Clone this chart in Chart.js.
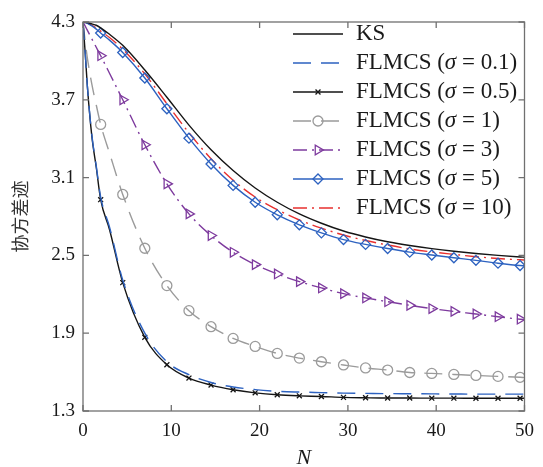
<!DOCTYPE html>
<html>
<head>
<meta charset="utf-8">
<script src="https://cdn.jsdelivr.net/npm/chart.js@4.4.1/dist/chart.umd.min.js"></script>
<style>
    html, body { margin: 0; padding: 0; background: #fff; }
</style>
</head>
<body>
<canvas id="chart1" width="543" height="467"></canvas>
<script>

// N values
var nValues = [0, 0.25, 0.5, 1, 1.5, 2, 3, 4.5, 7, 9.5, 12, 14.5, 17, 19.5, 22, 24.5, 27, 29.5, 32, 34.5, 37, 39.5, 42, 44.5, 47, 49.5, 50];
// N values that carry a marker symbol
var markerN = [2, 4.5, 7, 9.5, 12, 14.5, 17, 19.5, 22, 24.5, 27, 29.5, 32, 34.5, 37, 39.5, 42, 44.5, 47, 49.5];

var ks     = [4.30, 4.298, 4.295, 4.285, 4.275, 4.255, 4.205, 4.12, 3.93, 3.72, 3.505, 3.315, 3.155, 3.02, 2.91, 2.82, 2.748, 2.688, 2.642, 2.605, 2.576, 2.552, 2.532, 2.515, 2.500, 2.488, 2.486];
var sig01  = [4.30, 4.06, 3.80, 3.43, 3.19, 2.95, 2.72, 2.31, 1.90, 1.68, 1.58, 1.52, 1.485, 1.465, 1.452, 1.446, 1.442, 1.438, 1.436, 1.434, 1.433, 1.432, 1.431, 1.430, 1.430, 1.430, 1.430];
var sig05  = [4.30, 4.06, 3.80, 3.42, 3.18, 2.93, 2.70, 2.29, 1.868, 1.657, 1.554, 1.50, 1.464, 1.44, 1.425, 1.417, 1.412, 1.405, 1.402, 1.40, 1.40, 1.399, 1.399, 1.398, 1.398, 1.398, 1.398];
var sig1   = [4.30, 4.15, 4.02, 3.82, 3.66, 3.51, 3.29, 2.97, 2.555, 2.267, 2.074, 1.95, 1.86, 1.798, 1.744, 1.708, 1.68, 1.655, 1.632, 1.616, 1.597, 1.59, 1.582, 1.574, 1.567, 1.56, 1.558];
var sig3   = [4.30, 4.268, 4.235, 4.17, 4.105, 4.04, 3.905, 3.70, 3.353, 3.052, 2.82, 2.653, 2.524, 2.429, 2.357, 2.298, 2.249, 2.205, 2.172, 2.143, 2.115, 2.09, 2.068, 2.048, 2.027, 2.008, 2.005];
var sig5   = [4.30, 4.295, 4.29, 4.27, 4.245, 4.215, 4.16, 4.065, 3.868, 3.631, 3.404, 3.205, 3.04, 2.91, 2.813, 2.736, 2.674, 2.622, 2.585, 2.553, 2.525, 2.503, 2.482, 2.462, 2.44, 2.422, 2.42];
var sig10  = [4.30, 4.297, 4.292, 4.275, 4.255, 4.23, 4.18, 4.09, 3.90, 3.67, 3.445, 3.245, 3.08, 2.95, 2.853, 2.773, 2.71, 2.657, 2.615, 2.58, 2.55, 2.527, 2.508, 2.49, 2.476, 2.466, 2.464];

var seriesLabels = ['KS', 'FLMCS (σ = 0.1)', 'FLMCS (σ = 0.5)', 'FLMCS (σ = 1)', 'FLMCS (σ = 3)', 'FLMCS (σ = 5)', 'FLMCS (σ = 10)'];
var xTicks = [0, 10, 20, 30, 40, 50];
var yTicks = [1.3, 1.9, 2.5, 3.1, 3.7, 4.3];

var serif = '"Liberation Serif", "Times New Roman", serif';

function points(values) {
    var out = [];
    for (var i = 0; i < nValues.length; i += 1) {
        out.push({ x: nValues[i], y: values[i] });
    }
    return out;
}

// only the marker positions get a symbol, the extra points just shape the line
function markerRadius(r) {
    return function (c) {
        return markerN.indexOf(nValues[c.dataIndex]) >= 0 ? r : 0;
    };
}

function series(label, values, color, dash, marker, r, rot) {
    return {
        label: label,
        data: points(values),
        borderColor: color,
        backgroundColor: color,
        borderWidth: 1.4,
        borderDash: dash,
        cubicInterpolationMode: 'monotone',
        pointStyle: marker || false,
        pointRadius: marker ? markerRadius(r) : 0,
        pointRotation: rot || 0,
        pointBorderColor: color,
        pointBackgroundColor: 'rgba(0,0,0,0)',
        pointBorderWidth: 1.3,
        pointHoverRadius: 0,
        fill: false
    };
}

var datasets = [
    series(seriesLabels[0], ks, '#151515', [], null),
    series(seriesLabels[1], sig01, '#2d62c0', [18, 10], null),
    series(seriesLabels[2], sig05, '#151515', [], 'crossRot', 3.5),
    series(seriesLabels[3], sig1, '#9b9b9b', [18, 10], 'circle', 5),
    series(seriesLabels[4], sig3, '#7e3b9e', [14, 5, 2, 5], 'triangle', 5.5, 90),
    series(seriesLabels[5], sig5, '#2d62c0', [], 'rectRot', 5),
    series(seriesLabels[6], sig10, '#e8312f', [14, 5, 2, 5], null)
];

function drawMarker(ctx, ds, x, y) {
    if (!ds.pointStyle) return;
    ctx.save();
    ctx.setLineDash([]);
    ctx.strokeStyle = ds.pointBorderColor;
    ctx.fillStyle = ds.pointBackgroundColor;
    ctx.lineWidth = ds.pointBorderWidth;
    var r = ds.pointRadius({ dataIndex: nValues.indexOf(markerN[0]) });
    if (Chart.helpers && Chart.helpers.drawPoint) {
        Chart.helpers.drawPoint(ctx, { pointStyle: ds.pointStyle, rotation: ds.pointRotation, radius: r, borderWidth: ds.pointBorderWidth }, x, y);
    }
    ctx.restore();
}

// MATLAB style legend inside the axes
var legendPlugin = {
    id: 'insideLegend',
    afterDatasetsDraw: function (chart) {
        var ctx = chart.ctx;
        var x0 = 293, x1 = 343, tx = 356, y0 = 34, dy = 29;
        ctx.save();
        for (var i = 0; i < datasets.length; i += 1) {
            var ds = datasets[i];
            var y = y0 + i * dy;
            ctx.strokeStyle = ds.borderColor;
            ctx.lineWidth = ds.borderWidth;
            ctx.setLineDash(ds.borderDash);
            ctx.beginPath();
            ctx.moveTo(x0, y);
            ctx.lineTo(x1, y);
            ctx.stroke();
            drawMarker(ctx, ds, (x0 + x1) / 2, y);

            var parts = ds.label.split('σ');
            var x = tx;
            ctx.fillStyle = '#1a1a1a';
            ctx.textBaseline = 'middle';
            ctx.textAlign = 'left';
            ctx.font = '23px ' + serif;
            ctx.fillText(parts[0], x, y);
            if (parts.length > 1) {
                x += ctx.measureText(parts[0]).width;
                ctx.font = 'italic 23px ' + serif;
                ctx.fillText('σ', x, y);
                x += ctx.measureText('σ').width;
                ctx.font = '23px ' + serif;
                ctx.fillText(parts[1], x, y);
            }
        }
        ctx.restore();
    }
};

// box round the axes with inward ticks on all four sides
var framePlugin = {
    id: 'frame',
    afterDraw: function (chart) {
        var ctx = chart.ctx, a = chart.chartArea;
        var xs = chart.scales.x, ys = chart.scales.y;
        var t = 6;
        ctx.save();
        ctx.strokeStyle = '#707070';
        ctx.lineWidth = 1.3;
        ctx.setLineDash([]);
        ctx.strokeRect(a.left, a.top, a.right - a.left, a.bottom - a.top);
        ctx.beginPath();
        xTicks.forEach(function (v) {
            var p = xs.getPixelForValue(v);
            ctx.moveTo(p, a.bottom); ctx.lineTo(p, a.bottom - t);
            ctx.moveTo(p, a.top); ctx.lineTo(p, a.top + t);
        });
        yTicks.forEach(function (v) {
            var p = ys.getPixelForValue(v);
            ctx.moveTo(a.left, p); ctx.lineTo(a.left + t, p);
            ctx.moveTo(a.right, p); ctx.lineTo(a.right - t, p);
        });
        ctx.stroke();
        ctx.restore();
    }
};

var chart = new Chart(document.getElementById('chart1'), {
    type: 'line',
    data: { datasets: datasets },
    plugins: [legendPlugin, framePlugin],
    options: {
        responsive: false,
        animation: false,
        layout: { padding: { left: 0, right: 12, top: 22, bottom: 0 } },
        plugins: {
            legend: { display: false },
            tooltip: { enabled: false }
        },
        scales: {
            x: {
                type: 'linear',
                min: 0,
                max: 50,
                grid: { display: false, drawTicks: false },
                border: { display: false },
                afterBuildTicks: function (scale) {
                    scale.ticks = xTicks.map(function (v) { return { value: v }; });
                },
                afterFit: function (scale) { scale.height = 56; },
                ticks: {
                    padding: 9,
                    color: '#1a1a1a',
                    font: { family: serif, size: 19 },
                    maxRotation: 0
                },
                title: {
                    display: true,
                    text: 'N',
                    color: '#1a1a1a',
                    font: { family: serif, size: 22, style: 'italic', lineHeight: 1 },
                    padding: { top: 0, bottom: -2 }
                }
            },
            y: {
                type: 'linear',
                min: 1.3,
                max: 4.3,
                grid: { display: false, drawTicks: false },
                border: { display: false },
                afterBuildTicks: function (scale) {
                    scale.ticks = yTicks.map(function (v) { return { value: v }; });
                },
                afterFit: function (scale) { scale.width = 83; },
                ticks: {
                    padding: 8,
                    color: '#1a1a1a',
                    font: { family: serif, size: 19 },
                    callback: function (v) { return Number(v).toFixed(1); }
                },
                title: {
                    display: true,
                    text: '协方差迹',
                    color: '#333',
                    font: { family: '"Noto Sans CJK SC", sans-serif', size: 18, lineHeight: 1.2 },
                    padding: { top: 9, bottom: 0 }
                }
            }
        }
    }
});
</script>
</body>
</html>
